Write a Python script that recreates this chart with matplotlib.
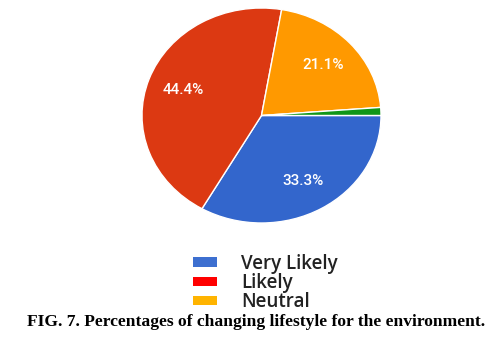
import matplotlib
matplotlib.use('Agg')
import matplotlib.pyplot as plt
from matplotlib.patches import Patch

# data
labels = ['Very Likely', 'Likely', 'Neutral', 'Other']
values = [33.3, 44.4, 21.1, 1.2]
pie_colors = ['#3366cc', '#dc3912', '#ff9900', '#109618']
legend_labels = ['Very Likely', 'Likely', 'Neutral']
legend_colors = ['#3d6fd0', '#ff0000', '#ffb400']
caption = 'FIG. 7. Percentages of changing lifestyle for the environment.'

fig = plt.figure(figsize=(4.97, 3.37), dpi=100)
ax = fig.add_axes([142 / 497, (337 - 223) / 337, 239 / 497, 215 / 337])

def pct(v):
    return '%.1f%%' % v if v > 5 else ''

wedges, texts, autotexts = ax.pie(values, colors=pie_colors, startangle=0, counterclock=False,
                                  autopct=pct, pctdistance=0.7,
                                  wedgeprops=dict(edgecolor='white', linewidth=1))
for t in autotexts:
    t.set_color('white')
    t.set_fontsize(11)
    t.set_family('Roboto')
    t.set_weight('medium')
ax.set_aspect('auto')
ax.set_xlim(-1, 1)
ax.set_ylim(-1, 1)

handles = [Patch(facecolor=c, edgecolor='none') for c in legend_colors]
fig.legend(handles, legend_labels, loc='upper left', bbox_to_anchor=(193 / 497, 1 - 254 / 337),
           frameon=False, prop={'family': 'Open Sans', 'size': 13.5, 'weight': 'semibold'},
           labelcolor='#222222', borderpad=0, borderaxespad=0,
           handlelength=1.3, handleheight=0.42, handletextpad=1.25, labelspacing=-0.05)

fig.text(256 / 497, 1 - 322 / 337, caption, ha='center', va='center',
         family='Liberation Serif', weight='bold', fontsize=12.6)

fig.savefig('out.png', dpi=100)
